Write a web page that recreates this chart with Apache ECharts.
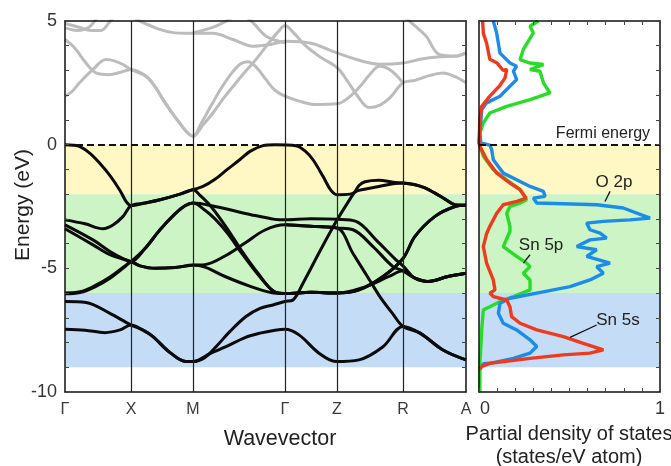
<!DOCTYPE html>
<html><head><meta charset="utf-8">
<script src="https://cdn.jsdelivr.net/npm/echarts@6/dist/echarts.min.js"></script>
<style>html,body{margin:0;padding:0;background:#fff}#c{width:671px;height:466px}</style>
</head><body><div id="c"></div>
<script>
// ---------- data ----------
const kpts = [0, 66, 128, 220, 272, 338, 401];
const klabels = ['Γ', 'X', 'M', 'Γ', 'Z', 'R', 'A'];
const eTickLabels = [-10, -5, 0, 5];
const dosTickLabels = [0, 1];
const energyRegions = [[0, -2], [-2, -6], [-6, -9]];

// valence bands [k, E]
const vb1 = [[0,0],[8,-0.02],[15,-0.08],[25,-0.35],[35,-0.76],[45,-1.25],[55,-1.85],[61,-2.29],[66,-2.47],[80,-2.36],[95,-2.23],[115,-2.0],[128,-1.82],[138,-1.69],[150,-1.4],[162,-1.01],[175,-0.6],[185,-0.27],[198,-0.04],[210,0],[231,-0.04],[240,-0.25],[248,-0.61],[258,-1.28],[266,-1.85],[272,-2.02],[285,-2.0],[294,-1.85],[314,-1.69],[328,-1.58],[338,-1.55],[350,-1.62],[360,-1.75],[370,-1.96],[380,-2.2],[390,-2.43],[401,-2.45]];
const vb2 = [[0,-3.04],[20,-3.2],[38,-3.4],[48,-3.25],[58,-2.9],[66,-2.47],[80,-2.36],[95,-2.23],[115,-2.0],[128,-1.82],[135,-2.05],[146,-2.5],[163,-3.44],[176,-4.25],[193,-5.2],[209,-5.94],[220,-6.02],[246,-5.97],[272,-6.0],[294,-5.87],[318,-5.33],[338,-4.6],[350,-3.71],[370,-2.9],[390,-2.5],[401,-2.45]];
const vb3 = [[0,-3.24],[28,-3.85],[45,-4.32],[60,-4.65],[66,-4.73],[80,-4.2],[95,-3.44],[110,-2.8],[120,-2.47],[128,-2.36],[150,-2.5],[186,-2.83],[210,-3.02],[220,-3.04],[246,-3.0],[272,-3.02],[291,-3.1],[311,-3.85],[331,-4.66],[338,-4.9],[350,-5.4],[363,-5.53],[383,-5.33],[401,-5.2]];
const vb4 = [[0,-3.4],[28,-4.05],[45,-4.45],[66,-4.73],[75,-4.9],[90,-5.0],[110,-4.97],[128,-4.87],[140,-4.85],[160,-4.5],[180,-3.98],[200,-3.45],[220,-3.24],[246,-3.3],[272,-3.37],[288,-4.4],[305,-5.5],[315,-6.15],[328,-6.85],[338,-7.35],[355,-7.62],[378,-8.3],[401,-8.7]];
const vb5 = [[0,-6.0],[15,-5.95],[30,-5.7],[45,-5.35],[60,-4.9],[66,-4.73],[80,-4.2],[95,-3.44],[110,-2.8],[120,-2.47],[128,-2.36],[140,-2.65],[150,-3.0],[163,-3.6],[176,-4.35],[193,-5.25],[209,-5.94],[220,-6.02],[246,-5.97],[272,-6.0],[301,-5.74],[324,-5.33],[338,-5.1],[350,-5.4],[363,-5.53],[383,-5.33],[401,-5.2]];
const vb6 = [[0,-6.03],[15,-5.98],[30,-5.75],[45,-5.4],[60,-4.93],[66,-4.73],[75,-4.9],[90,-5.0],[110,-4.97],[128,-4.87],[140,-4.95],[160,-5.33],[186,-5.74],[206,-5.98],[220,-6.02],[246,-5.97],[272,-6.0],[294,-5.87],[318,-5.33],[338,-4.6],[350,-3.71],[370,-2.9],[390,-2.5],[401,-2.45]];
const vb7 = [[0,-6.34],[21,-6.38],[44,-6.8],[66,-7.29],[78,-7.5],[88,-7.76],[104,-8.37],[121,-8.77],[128,-8.77],[140,-8.6],[151,-8.17],[165,-7.55],[181,-6.95],[195,-6.62],[208,-6.48],[220,-6.34],[228,-6.28],[238,-5.6],[255,-4.3],[272,-3.05],[285,-2.2],[290,-1.9],[294,-1.65],[300,-1.5],[314,-1.44],[328,-1.52],[338,-1.55],[350,-1.62],[360,-1.75],[370,-1.96],[380,-2.2],[390,-2.43],[401,-2.45]];
const vb8 = [[0,-7.46],[20,-7.5],[40,-7.6],[55,-7.49],[66,-7.29],[78,-7.5],[88,-7.76],[104,-8.37],[121,-8.77],[128,-8.77],[145,-8.45],[161,-8.17],[180,-7.8],[195,-7.62],[210,-7.5],[220,-7.46],[234,-7.69],[254,-8.43],[271,-8.77],[294,-8.7],[318,-8.17],[338,-7.35],[355,-7.62],[378,-8.3],[401,-8.7]];
const vb9 = [[220,-3.24],[246,-3.3],[272,-3.37],[288,-3.44],[308,-4.12],[328,-4.93],[338,-5.1],[350,-5.4],[363,-5.53],[383,-5.33],[401,-5.2]];

// conduction bands [k, E]
const cb1 = [[0,1.96],[7,2.15],[14.5,2.5],[28,3.04],[41,3.44],[50,3.38],[58,3.24],[66,3.04],[81,2.77],[90,2.35],[98,1.82],[106,1.35],[114.5,0.88],[122,0.5],[128,0.34],[138,0.8],[148,1.28],[158,1.85],[168,2.35],[178,2.85],[188,3.3],[196,3.7],[204.5,4.15],[214,4.6],[220,4.82],[228,4.55],[241,3.98],[255,3.55],[272,3.12],[282,2.6],[292,2.0],[304,1.5],[315,1.6],[325,1.9],[338,2.5],[350,2.6],[365,2.8],[378,2.9],[390,2.75],[401,2.5]];
const cb2 = [[0,4.25],[10,3.9],[20,3.35],[31,2.9],[44.5,2.83],[55,2.92],[66,3.04],[81,2.77],[90,2.35],[98,1.82],[106,1.35],[114.5,0.88],[122,0.5],[128,0.34],[136,0.85],[145,1.5],[155,2.2],[165,2.8],[175,3.25],[183,3.35],[192,3.1],[201,2.63],[210,2.2],[220,1.96],[235,1.75],[251,1.62],[272,1.65],[285,1.95],[295,2.35],[305,2.85],[314.5,3.17],[326,3.0],[338,2.5]];
const cb3 = [[68,5.15],[74.5,5.0],[94.5,4.66],[110,4.52],[128,4.5],[148,4.5],[168,4.25],[188,3.98],[205,4.05],[220,4.18],[246,4.1],[272,3.71],[295,3.4],[315,3.25],[338,3.3],[355,3.45],[375,3.55],[391,3.58],[401,3.71]];
const cb4 = [[340,5.15],[350,4.8],[361,4.39],[374.5,3.64],[391,3.58],[401,3.71]];
const cb5 = [[0,4.72],[12,4.62],[24,4.75],[32,5.15]];
const cb6 = [[0,4.9],[14,4.75],[26,4.62],[36,4.62],[44,4.93],[48,5.15]];
const cb7 = [[128,4.52],[140,4.65],[151,4.79],[168,5.15]];
const cb8 = [[182,5.15],[188,4.93],[201,4.39],[212,4.2],[220,4.12]];

// partial DOS [states/eV atom, E]
const dosSn5s = [[0.02,5.0],[0.024,4.5],[0.042,4.1],[0.06,3.45],[0.1,3.3],[0.134,3.0],[0.153,3.04],[0.144,2.7],[0.116,2.4],[0.06,1.96],[0.015,1.55],[0.005,1.0],[0,0.1],[0.005,-0.07],[0.042,-0.6],[0.098,-1.15],[0.17,-1.55],[0.227,-1.82],[0.26,-2.16],[0.21,-2.29],[0.134,-2.43],[0.098,-2.77],[0.06,-3.3],[0.042,-3.6],[0.024,-4.12],[0.042,-4.79],[0.079,-5.47],[0.088,-5.87],[0.06,-6.0],[0.079,-6.14],[0.153,-6.28],[0.171,-6.55],[0.18,-6.95],[0.227,-7.22],[0.319,-7.49],[0.466,-7.76],[0.576,-8.03],[0.687,-8.3],[0.613,-8.43],[0.466,-8.5],[0.282,-8.64],[0.06,-8.84],[0.015,-8.97],[0,-9.05]];
const dosO2p = [[0.079,5.0],[0.098,4.5],[0.116,3.7],[0.171,3.3],[0.208,3.17],[0.19,2.97],[0.208,2.63],[0.153,2.23],[0.116,1.96],[0.042,1.69],[0.015,1.42],[0.005,0.47],[0.01,0.07],[0.06,-0.02],[0.07,-0.2],[0.079,-0.61],[0.134,-1.15],[0.208,-1.42],[0.282,-1.69],[0.356,-1.89],[0.365,-2.09],[0.3,-2.16],[0.319,-2.36],[0.466,-2.39],[0.65,-2.43],[0.797,-2.56],[0.945,-2.97],[0.834,-3.04],[0.687,-3.1],[0.595,-3.17],[0.613,-3.44],[0.669,-3.58],[0.705,-3.78],[0.613,-3.85],[0.54,-4.12],[0.65,-4.25],[0.595,-4.52],[0.724,-4.79],[0.65,-4.93],[0.687,-5.2],[0.613,-5.47],[0.503,-5.74],[0.319,-6.0],[0.171,-6.21],[0.116,-6.41],[0.107,-6.82],[0.134,-7.22],[0.208,-7.49],[0.282,-7.89],[0.319,-8.16],[0.282,-8.43],[0.19,-8.64],[0.06,-8.84],[0.024,-8.86],[0.005,-9.1]];
const dosSn5p = [[0.328,5.0],[0.282,4.79],[0.3,4.52],[0.245,3.85],[0.227,3.44],[0.282,3.3],[0.356,3.24],[0.282,3.04],[0.337,2.97],[0.356,2.5],[0.392,2.09],[0.282,1.82],[0.153,1.55],[0.06,1.28],[0.024,0.88],[0.005,0.47],[0,0.07],[0.024,-0.47],[0.079,-1.01],[0.153,-1.42],[0.227,-1.82],[0.263,-2.23],[0.227,-2.36],[0.171,-2.5],[0.153,-2.77],[0.171,-3.3],[0.171,-3.5],[0.134,-4.12],[0.208,-4.52],[0.263,-4.79],[0.282,-4.93],[0.245,-5.2],[0.282,-5.47],[0.282,-5.87],[0.19,-6.14],[0.134,-6.28],[0.06,-6.55],[0.024,-6.68],[0.015,-7.49],[0.005,-8.84],[0.005,-10]];

// annotations (right panel, data coords)
const annotTexts = ['Fermi energy', 'O 2p', 'Sn 5p', 'Sn 5s'];
const annotAt = [[0.685, 0.45], [0.746, -1.54], [0.343, -4.05], [0.768, -7.09]];
const leaders = [[[0.724, -1.89], [0.696, -2.3]], [[0.282, -4.45], [0.245, -4.79]], [[0.65, -7.29], [0.503, -7.79]]];

// ---------- styles ----------
const FONT = '"Liberation Sans", Arial, Helvetica, sans-serif';
const regionColors = ['#fff7c4', '#ccf4c4', '#c4dcf6'];
const pdosColors = {s: '#f03a1e', p: '#28dc28', o: '#1c8ceb'};

const chart = echarts.init(document.getElementById('c'), null, {renderer: 'canvas'});

const valence = [vb1, vb2, vb3, vb4, vb5, vb6, vb7, vb8, vb9];
const conduction = [cb1, cb2, cb3, cb4, cb5, cb6, cb7, cb8];

const lineBase = {type: 'line', showSymbol: false, symbol: 'none', silent: true, animation: false};
const series = [];

// backgrounds
series.push(Object.assign({}, lineBase, {
  xAxisIndex: 0, yAxisIndex: 0, data: [[0, -10]], lineStyle: {opacity: 0}, z: 1,
  markArea: {silent: true, data: energyRegions.map((r, i) => [{yAxis: r[0], itemStyle: {color: regionColors[i]}}, {yAxis: r[1]}])}
}));
series.push(Object.assign({}, lineBase, {
  xAxisIndex: 2, yAxisIndex: 2, data: [[0, -10]], lineStyle: {opacity: 0}, z: 1,
  markArea: {silent: true, data: energyRegions.map((r, i) => [{yAxis: r[0], itemStyle: {color: regionColors[i]}}, {yAxis: r[1]}])}
}));
// symmetry lines + Fermi line (left)
series.push(Object.assign({}, lineBase, {
  xAxisIndex: 0, yAxisIndex: 0, data: [[0, -10]], lineStyle: {opacity: 0}, z: 2,
  markLine: {silent: true, symbol: 'none', label: {show: false}, animation: false,
    data: kpts.slice(1, -1).map(k => ({xAxis: k, lineStyle: {color: '#222', width: 1.2, type: 'solid'}}))
      .concat([{yAxis: 0, lineStyle: {color: '#111', width: 1.8, type: [7, 4]}}])}
}));
// conduction (grey)
conduction.forEach(d => series.push(Object.assign({}, lineBase, {
  xAxisIndex: 0, yAxisIndex: 0, data: d, smooth: 0.35, z: 3, lineStyle: {color: '#bcbcbc', width: 3}
})));
// valence (black)
valence.forEach(d => series.push(Object.assign({}, lineBase, {
  xAxisIndex: 0, yAxisIndex: 0, data: d, smooth: 0.35, z: 4, lineStyle: {color: '#0b0b0b', width: 3}
})));
// PDOS
[[dosSn5p, pdosColors.p], [dosO2p, pdosColors.o], [dosSn5s, pdosColors.s]].forEach(([d, c]) => series.push(Object.assign({}, lineBase, {
  xAxisIndex: 2, yAxisIndex: 2, data: d, smooth: false, z: 4, lineStyle: {color: c, width: 3.4}
})));
// Fermi line + leaders (right)
series.push(Object.assign({}, lineBase, {
  xAxisIndex: 2, yAxisIndex: 2, data: [[0, -10]], lineStyle: {opacity: 0}, z: 5,
  markLine: {silent: true, symbol: 'none', label: {show: false}, animation: false,
    data: [{yAxis: 0, lineStyle: {color: '#111', width: 1.8, type: [7, 4]}}]
      .concat(leaders.map(l => [{coord: l[0], lineStyle: {color: '#111', width: 1.3, type: 'solid'}}, {coord: l[1]}]))}
}));

const axLine = {onZero: false, lineStyle: {color: '#111', width: 1.5}};
const tickIn = {show: true, inside: true, length: 4, lineStyle: {color: '#444', width: 1}};

const option = {
  animation: false,
  grid: [
    {left: 65, top: 21, width: 401, height: 371},
    {left: 479, top: 21, width: 181, height: 371}
  ],
  xAxis: [
    {gridIndex: 0, type: 'value', min: 0, max: 401, position: 'bottom', z: 10, axisLine: axLine,
     axisTick: {show: false}, splitLine: {show: false},
     axisLabel: {customValues: kpts, formatter: v => { const i = kpts.indexOf(v); return i >= 0 ? klabels[i] : ''; },
       color: '#3a3a3a', fontSize: 16, fontFamily: FONT, margin: 10}},
    {gridIndex: 0, type: 'value', min: 0, max: 401, position: 'top', z: 10, axisLine: axLine,
     axisTick: {show: false}, splitLine: {show: false}, axisLabel: {show: false}},
    {gridIndex: 1, type: 'value', min: 0, max: 1, interval: 0.1, position: 'bottom', z: 10, axisLine: axLine,
     axisTick: tickIn, splitLine: {show: false},
     axisLabel: {formatter: v => v === dosTickLabels[0] ? '{z|' + v + '}' : (v === dosTickLabels[1] ? String(v) : ''),
       rich: {z: {padding: [0, 0, 0, 12], fontSize: 18, fontFamily: FONT, color: '#333'}},
       color: '#333', fontSize: 18, fontFamily: FONT, margin: 8}},
    {gridIndex: 1, type: 'value', min: 0, max: 1, interval: 0.1, position: 'top', z: 10, axisLine: axLine,
     axisTick: tickIn, splitLine: {show: false}, axisLabel: {show: false}}
  ],
  yAxis: [
    {gridIndex: 0, type: 'value', min: -10, max: 5, interval: 1, position: 'left', z: 10, axisLine: axLine,
     axisTick: tickIn, splitLine: {show: false},
     axisLabel: {formatter: v => eTickLabels.includes(v) ? String(v) : '', color: '#333', fontSize: 18, fontFamily: FONT, margin: 8}},
    {gridIndex: 0, type: 'value', min: -10, max: 5, interval: 1, position: 'right', z: 10, axisLine: axLine,
     axisTick: tickIn, splitLine: {show: false}, axisLabel: {show: false}},
    {gridIndex: 1, type: 'value', min: -10, max: 5, interval: 1, position: 'left', z: 10, axisLine: axLine,
     axisTick: {show: false}, splitLine: {show: false}, axisLabel: {show: false}},
    {gridIndex: 1, type: 'value', min: -10, max: 5, interval: 1, position: 'right', z: 10, axisLine: axLine,
     axisTick: tickIn, splitLine: {show: false}, axisLabel: {show: false}}
  ],
  series: series
};
chart.setOption(option);

// titles and annotations
const txt = (text, x, y, size, extra) => Object.assign({
  type: 'text', x: x, y: y, z: 100, silent: true,
  style: {text: text, font: size + 'px ' + FONT, fill: '#222', textAlign: 'center', textVerticalAlign: 'middle', verticalAlign: 'middle'}
}, extra || {});
const graphics = [
  txt('Energy (eV)', 23, 205, 21, {rotation: Math.PI / 2}),
  txt('Wavevector', 280, 439, 21.5),
  txt('Partial density of states', 569, 434, 20),
  txt('(states/eV atom)', 569, 457, 20)
];
annotTexts.forEach((t, i) => {
  const p = chart.convertToPixel({xAxisIndex: 2, yAxisIndex: 2}, annotAt[i]);
  graphics.push(txt(t, p[0], p[1], i === 0 ? 16 : 17));
});
chart.setOption({graphic: graphics});
</script></body></html>
